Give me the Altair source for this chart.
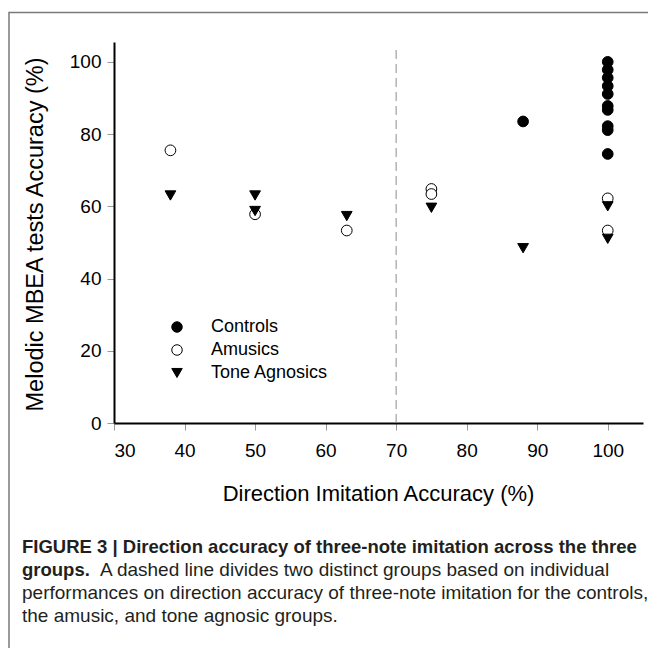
import altair as alt
import pandas as pd

# ---- data ----
groups = ["Controls", "Amusics", "Tone Agnosics"]

controls_x = [100, 100, 100, 100, 100, 100, 100, 100, 100, 100, 88]
controls_y = [100, 97.8, 95.6, 93.3, 91.1, 87.8, 86.7, 82.2, 81.1, 74.5, 83.5]

amusics_x = [38, 50, 63, 75, 75, 100, 100]
amusics_y = [75.5, 57.8, 53.3, 64.8, 63.4, 62.2, 53.3]

agnosics_x = [38, 50, 50, 63, 75, 88, 100, 100]
agnosics_y = [63.0, 63.0, 58.7, 57.3, 59.6, 48.4, 60.0, 51.0]

divider_x = [70]
divider_y = [0]
divider_y2 = [104]

x_ticks = [30, 40, 50, 60, 70, 80, 90, 100]
y_ticks = [0, 20, 40, 60, 80, 100]

x_title = "Direction Imitation Accuracy (%)"
y_title = "Melodic MBEA tests Accuracy (%)"

caption_bold_1 = "FIGURE 3 | Direction accuracy of three-note imitation across the three"
caption_bold_2 = "groups."
caption_rest_2 = "A dashed line divides two distinct groups based on individual"
caption_line_3 = "performances on direction accuracy of three-note imitation for the controls,"
caption_line_4 = "the amusic, and tone agnosic groups."

# ---- tables ----
rows = []
for g, xs, ys in [("Controls", controls_x, controls_y),
                  ("Amusics", amusics_x, amusics_y),
                  ("Tone Agnosics", agnosics_x, agnosics_y)]:
    for xv, yv in zip(xs, ys):
        rows.append({"group": g, "x": xv, "y": yv})
df = pd.DataFrame(rows)
df["order"] = df["group"].map({g: i for i, g in enumerate(groups)})

div_df = pd.DataFrame({"x": divider_x, "y": divider_y, "y2": divider_y2})

W, H = 529, 381
FONT = "Liberation Sans"

xscale = alt.Scale(domain=[30, 105], nice=False, zero=False)
yscale = alt.Scale(domain=[0, 105.5], nice=False, zero=False)

legend = alt.Legend(
    title=None, orient="none", legendX=54, legendY=276,
    labelFontSize=18, labelFont=FONT, labelColor="black",
    symbolSize=110, symbolStrokeWidth=1,
    rowPadding=5, labelOffset=25, padding=0, symbolOffset=0,
)

points = alt.Chart(df).mark_point(filled=True, strokeWidth=1,
                                  opacity=1, size=115).encode(
    x=alt.X("x:Q", scale=xscale,
            axis=alt.Axis(values=x_ticks, title=x_title, grid=False,
                          titleX=264, titleY=77, titleBaseline="alphabetic",
                          titleFontSize=22)),
    y=alt.Y("y:Q", scale=yscale,
            axis=alt.Axis(values=y_ticks, title=y_title, grid=False,
                          titleX=-72, titleY=192, titleBaseline="alphabetic",
                          titleFontSize=23.5)),
    shape=alt.Shape("group:N", scale=alt.Scale(domain=groups,
                    range=["circle", "circle", "triangle-down"]), legend=legend),
    fill=alt.Fill("group:N", scale=alt.Scale(domain=groups,
                  range=["black", "white", "black"]), legend=legend),
    stroke=alt.Stroke("group:N", scale=alt.Scale(domain=groups,
                      range=["black", "black", "black"]), legend=legend),
    order=alt.Order("order:Q"),
)

divider = alt.Chart(div_df).mark_rule(color="#8c8c8c", strokeWidth=1,
                                      strokeDash=[9, 5]).encode(
    x=alt.X("x:Q", scale=xscale),
    y=alt.Y("y:Q", scale=yscale),
    y2="y2:Q",
)

one = alt.Data(values=[{"a": 1}])

frame = alt.Chart(one).mark_rect(fill="transparent", stroke="#7a7a7a",
                                 strokeWidth=1.5).encode(
    x=alt.value(-105), x2=alt.value(700),
    y=alt.value(-29.5), y2=alt.value(800),
)

def cap(text, x, y, bold=False, size=18.5):
    return alt.Chart(alt.Data(values=[{"t": text}])).mark_text(
        align="left", baseline="alphabetic", font=FONT, fontSize=size,
        fontWeight="bold" if bold else "normal", color="#231f20",
    ).encode(text="t:N", x=alt.value(x), y=alt.value(y))

capx = -92
caption = [
    cap(caption_bold_1, capx, 511, True, 18.5),
    cap(caption_bold_2, capx, 534, True, 18.5),
    cap(caption_rest_2, capx + 78, 534, False, 19),
    cap(caption_line_3, capx, 557, False, 19),
    cap(caption_line_4, capx, 580, False, 19),
]

chart = alt.layer(frame, divider, points, *caption).properties(
    width=W, height=H,
    autosize=alt.AutoSizeParams(type="none"),
    padding={"left": 106, "top": 34, "right": 5, "bottom": 225},
).configure_view(stroke=None).configure_axis(
    domainColor="black", domainWidth=2, tickColor="#999999", tickSize=7,
    tickWidth=1, labelFont=FONT, labelFontSize=19, labelColor="black",
    labelPadding=6, titleFont=FONT, titleFontWeight="normal",
    titleColor="black",
).configure_axisX(labelPadding=11)

chart.save("out.html", embed_options={"renderer": "svg", "actions": False})
